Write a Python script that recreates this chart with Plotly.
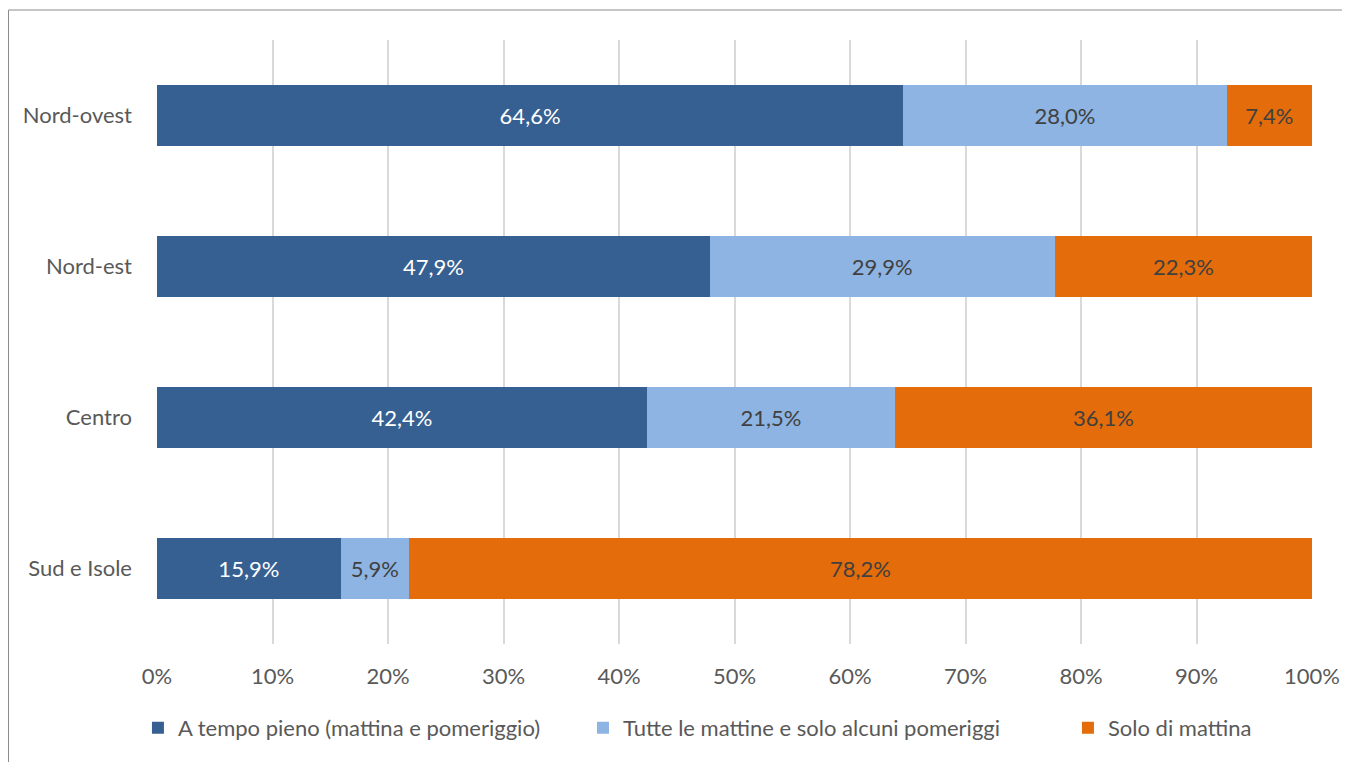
import plotly.graph_objects as go

aree = ['Nord-ovest', 'Nord-est', 'Centro', 'Sud e Isole']
tempo_pieno = [64.6, 47.9, 42.4, 15.9]
mattine_alcuni_pom = [28.0, 29.9, 21.5, 5.9]
solo_mattina = [7.4, 22.3, 36.1, 78.2]

serie = [
    ('A tempo pieno (mattina e pomeriggio)', tempo_pieno, '#376092', 'white', 'legend', -0.0165),
    ('Tutte le mattine e solo alcuni pomeriggi', mattine_alcuni_pom, '#8EB4E3', '#404040', 'legend2', 0.3688),
    ('Solo di mattina', solo_mattina, '#E46C0A', '#404040', 'legend3', 0.7887),
]

font_nome = 'Lato'
grigio = '#595959'

fig = go.Figure()

legende = {}
for nome, valori, colore, col_testo, leg, xleg in serie:
    fig.add_trace(go.Bar(
        y=aree,
        x=valori,
        name=nome,
        orientation='h',
        legend=leg,
        marker=dict(color=colore, line=dict(width=0)),
        text=[f'{v:.1f}%'.replace('.', ',') for v in valori],
        textposition='inside',
        insidetextanchor='middle',
        constraintext='none',
        textangle=0,
        textfont=dict(color=col_testo, size=22, family=font_nome),
    ))
    legende[leg] = dict(
        orientation='h',
        x=xleg,
        xanchor='left',
        y=-0.139,
        yanchor='middle',
        bgcolor='rgba(0,0,0,0)',
        font=dict(size=22, color=grigio, family=font_nome),
    )

# la pagina ha 8px di margine: figura ridotta per restare nella finestra
fig.update_layout(
    barmode='stack',
    barnorm='percent',
    bargap=0.6,
    width=1342,
    height=754,
    margin=dict(l=149, r=38, t=32, b=118, autoexpand=False),
    paper_bgcolor='white',
    plot_bgcolor='white',
    font=dict(family=font_nome, size=22, color=grigio),
    showlegend=True,
    xaxis=dict(
        range=[0, 100],
        dtick=10,
        ticksuffix='%',
        showgrid=True,
        gridcolor='#D9D9D9',
        gridwidth=2,
        zeroline=False,
        showline=False,
        ticks='',
        automargin=False,
        ticklabelstandoff=17,
        tickfont=dict(size=22, color=grigio),
    ),
    yaxis=dict(
        categoryorder='array',
        categoryarray=aree,
        autorange='reversed',
        showgrid=False,
        zeroline=False,
        showline=False,
        ticks='',
        automargin=False,
        ticklabelstandoff=24,
        tickfont=dict(size=22, color=grigio),
    ),
    shapes=[dict(
        type='rect', xref='paper', yref='paper',
        x0=(0.5 - 149) / 1155, x1=(1370 - 149) / 1155,
        y0=(636 - 780) / 604, y1=(636 - 2) / 604,
        line=dict(color='#8C8C8C', width=1),
        fillcolor='rgba(0,0,0,0)', layer='below',
    )],
    **legende,
)

fig.write_html('out.html')
